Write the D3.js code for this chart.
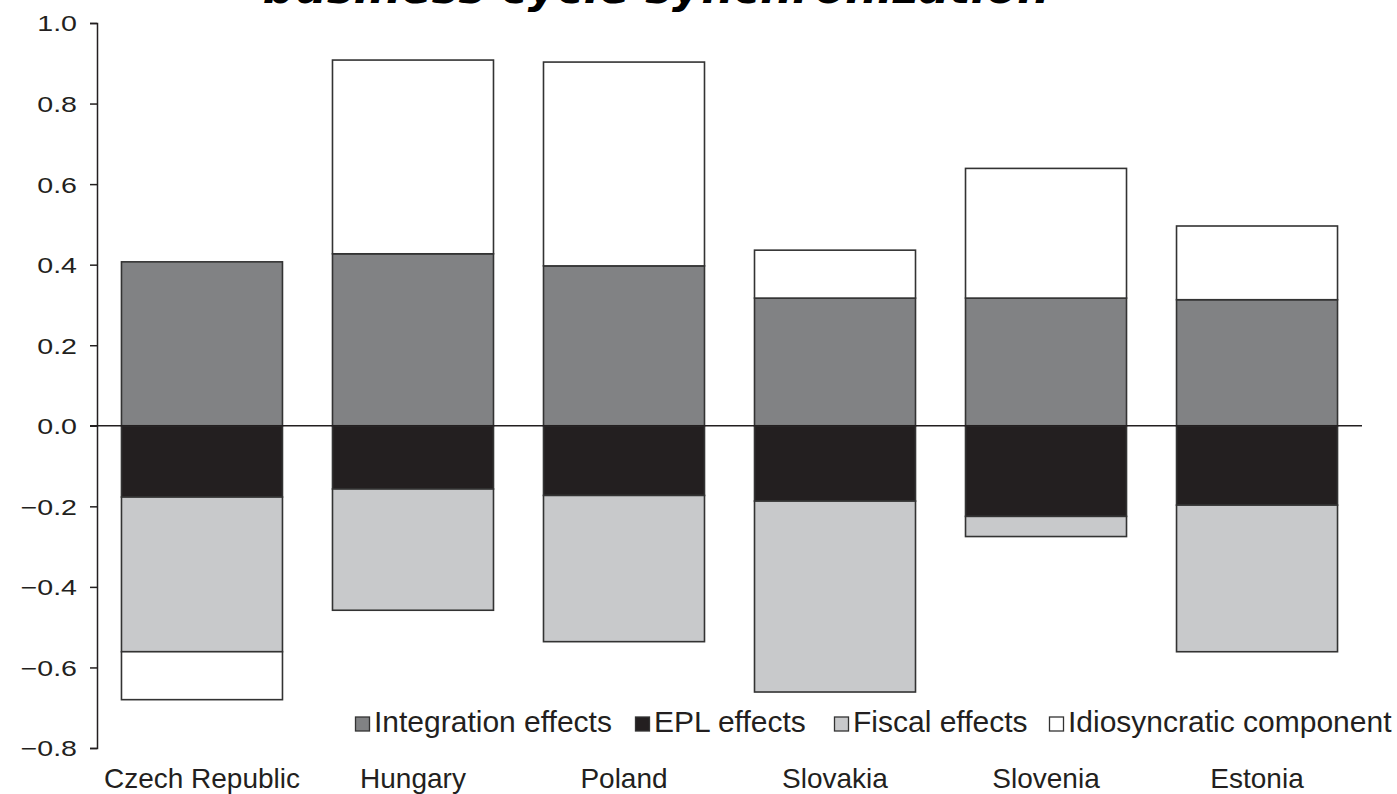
<!DOCTYPE html>
<html>
<head>
<meta charset="utf-8">
<script src="https://cdn.jsdelivr.net/npm/d3@7"></script>
<style>
  html, body { margin: 0; padding: 0; background: #fff; }
  svg { display: block; }
  text { font-family: "Liberation Sans", Arial, sans-serif; fill: #231f20; }
</style>
</head>
<body>
<svg id="chart" width="1397" height="794"></svg>
<script>
const categories = ["Czech Republic", "Hungary", "Poland", "Slovakia", "Slovenia", "Estonia"];
const seriesNames = ["Integration effects", "EPL effects", "Fiscal effects", "Idiosyncratic component"];
const integration = [0.407, 0.427, 0.397, 0.317, 0.317, 0.313];
const epl = [-0.177, -0.157, -0.173, -0.187, -0.225, -0.197];
const fiscal = [-0.384, -0.301, -0.363, -0.474, -0.050, -0.364];
const idiosyncratic = [-0.119, 0.481, 0.506, 0.119, 0.322, 0.183];
const yTicks = [1.0, 0.8, 0.6, 0.4, 0.2, 0.0, -0.2, -0.4, -0.6, -0.8];
const titleText = "business cycle synchronization";
const colors = ["#818284", "#231f20", "#c8c9cb", "#ffffff"];

const keys = ["integration", "epl", "fiscal", "idio"];
const table = categories.map((c, i) => ({
  category: c,
  integration: integration[i],
  epl: epl[i],
  fiscal: fiscal[i],
  idio: idiosyncratic[i]
}));

const svg = d3.select("#chart");
const x = d3.scaleBand().domain(categories).range([97, 1362]).paddingInner(0.237).paddingOuter(0.116);
const y = d3.scaleLinear().domain([-0.8, 1.0]).range([748, 23]);

const stacked = d3.stack().keys(keys).offset(d3.stackOffsetDiverging)(table);

// title (clipped at top, as in the source image)
svg.append("text")
  .attr("x", 656).attr("y", 3)
  .attr("text-anchor", "middle")
  .style("font-family", "'DejaVu Sans', Verdana, sans-serif")
  .style("font-weight", "bold")
  .style("font-style", "italic")
  .style("font-size", "45px")
  .style("fill", "#000")
  .text(titleText);

// bars
const layers = svg.append("g").selectAll("g").data(stacked).join("g")
  .attr("fill", (d, i) => colors[i]);
layers.selectAll("rect").data(d => d).join("rect")
  .attr("x", d => x(d.data.category))
  .attr("width", x.bandwidth())
  .attr("y", d => y(Math.max(d[0], d[1])))
  .attr("height", d => Math.abs(y(d[0]) - y(d[1])))
  .attr("stroke", "#333")
  .attr("stroke-width", 1.6);

// zero line
svg.append("line")
  .attr("x1", 90).attr("x2", 1362)
  .attr("y1", y(0)).attr("y2", y(0))
  .attr("stroke", "#231f20").attr("stroke-width", 1.5);

// y axis
const yAxis = d3.axisLeft(y).tickValues(yTicks).tickSize(7).tickPadding(13)
  .tickFormat(d3.format(".1f"));
const gy = svg.append("g").attr("transform", "translate(97,0)").call(yAxis);
gy.select(".domain").attr("stroke", "#231f20").attr("stroke-width", 1.5);
gy.selectAll(".tick line").attr("stroke", "#231f20").attr("stroke-width", 1.5);
gy.selectAll(".tick text")
  .attr("x", 0)
  .attr("dy", "0.36em")
  .attr("transform", "translate(-20,0) scale(1.3,1)")
  .style("font-family", "'Liberation Sans', Arial, sans-serif")
  .style("font-size", "22px").style("fill", "#231f20");

// x labels
const xAxis = d3.axisBottom(x).tickSize(0).tickPadding(0);
const gx = svg.append("g").attr("transform", "translate(0,788)").call(xAxis);
gx.select(".domain").remove();
gx.selectAll(".tick text")
  .attr("y", 0)
  .attr("dy", "0em")
  .style("font-family", "'Liberation Sans', Arial, sans-serif")
  .style("font-size", "28px").style("fill", "#231f20");

// legend
const legendX = [355, 635, 834, 1049];
const legend = svg.append("g");
seriesNames.forEach((name, i) => {
  const g = legend.append("g").attr("transform", `translate(${legendX[i]},732)`);
  g.append("rect").attr("x", 0.5).attr("y", -15).attr("width", 14).attr("height", 14)
    .attr("fill", colors[i]).attr("stroke", "#333").attr("stroke-width", 1.3);
  g.append("text").attr("x", 19).attr("y", 0)
    .style("font-size", "30px").text(name);
});
</script>
</body>
</html>
